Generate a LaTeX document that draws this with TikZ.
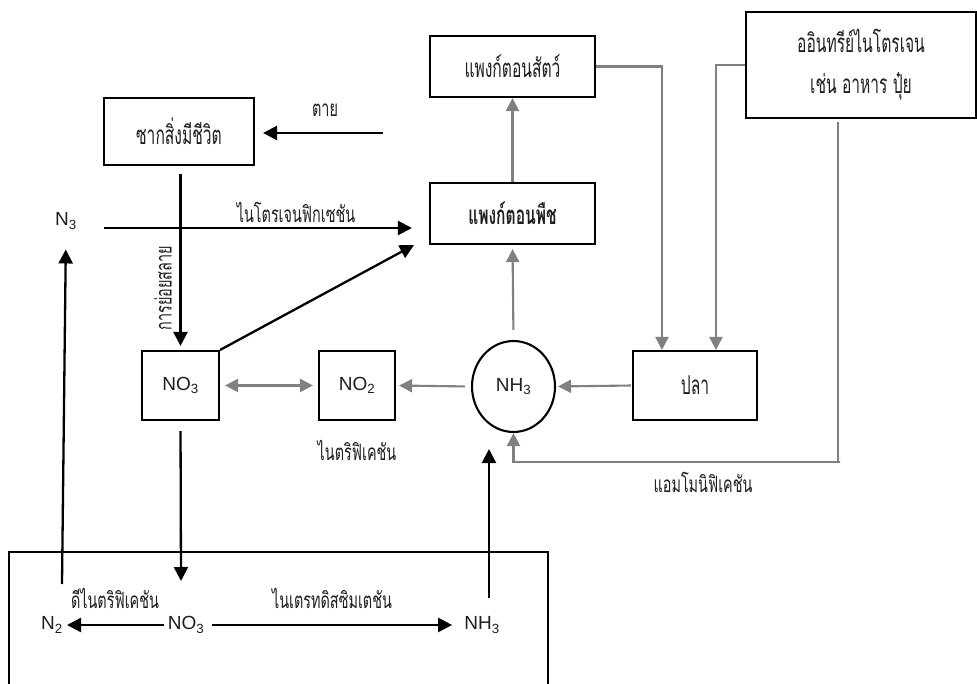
\documentclass[tikz,border=0pt]{standalone}
\usepackage{fontspec}
\setmainfont{Liberation Sans}
\newfontfamily\thai[Script=Thai,FakeStretch=0.64]{Loma}
\newfontfamily\thaibox[Script=Thai,FakeStretch=0.6]{Loma}
\usetikzlibrary{arrows.meta,shapes.geometric,calc}
\definecolor{gline}{RGB}{128,128,128}
\definecolor{ink}{RGB}{30,30,30}
\tikzset{
  blk/.style={draw=black,line width=2.3pt,-{Triangle[length=14pt,width=14pt]}},
  gry/.style={draw=gline,line width=2.1pt,-{Triangle[length=13pt,width=13pt]}},
  gryboth/.style={draw=gline,line width=2.1pt,{Triangle[length=13pt,width=13pt]}-{Triangle[length=13pt,width=13pt]}},
  boxnode/.style={draw=black,line width=2.1pt,inner sep=0pt,font=\thaibox\fontsize{26}{28}\selectfont,text=ink},
  chembox/.style={draw=black,line width=2.1pt,inner sep=0pt,font=\fontsize{19}{20}\selectfont,text=ink},
  lbl/.style={inner sep=0pt,font=\thai\fontsize{22.5}{24}\selectfont,text=ink},
  chem/.style={inner sep=0pt,font=\fontsize{19}{20}\selectfont,text=ink},
}
\newcommand{\sub}[1]{\textsubscript{#1}}
\begin{document}
\begin{tikzpicture}[x=1pt,y=-1pt]
\useasboundingbox (0,0) rectangle (977,684);
% boxes
\node[boxnode,minimum width=150pt,minimum height=67pt] (zak) at (179,131.5) {ซากสิ่งมีชีวิต};
\node[boxnode,minimum width=165pt,minimum height=61pt] (zoo) at (512.5,66.5) {แพงก์ตอนสัตว์};
\node[boxnode,minimum width=165pt,minimum height=61pt,font=\thaibox\bfseries\fontsize{26}{28}\selectfont] (phy) at (512.5,213.5) {แพงก์ตอนพืช};
\node[boxnode,minimum width=230pt,minimum height=106pt,align=center,font=\thaibox\fontsize{26}{41}\selectfont] (org) at (861,65) {ออินทรีย์ไนโตรเจน\\เช่น อาหาร ปุ๋ย};
\node[chembox,minimum width=77pt,minimum height=69pt] (no3) at (180.5,385.5) {NO\sub{3}};
\node[chembox,minimum width=76pt,minimum height=69pt] (no2) at (357,385.5) {NO\sub{2}};
\node[chembox,ellipse,minimum width=83pt,minimum height=91pt] (nh3) at (513.5,386.5) {NH\sub{3}};
\node[boxnode,minimum width=124pt,minimum height=69pt] (fish) at (695,385.5) {ปลา};
% soil box
\draw[line width=2.1pt] (9,686) -- (9,552) -- (548,552) -- (548,686);
% free labels
\node[chem] (n3) at (66,221) {N\sub{3}};
\node[chem] (n2) at (52,625) {N\sub{2}};
\node[chem] (no3b) at (186,625) {NO\sub{3}};
\node[chem] (nh3b) at (482,625) {NH\sub{3}};
\node[lbl] (ldie) at (325,110) {ตาย};
\node[lbl] (lfix) at (296,212) {ไนโตรเจนฟิกเซชัน};
\node[lbl,rotate=90] (ldec) at (163,288) {การย่อยสลาย};
\node[lbl] (lnit) at (357,450) {ไนตริฟิเคชัน};
\node[lbl] (lamm) at (703,482) {แอมโมนิฟิเคชัน};
\node[lbl] (lden) at (115,598) {ดีไนตริฟิเคชัน};
\node[lbl] (ldis) at (332,598) {ไนเตรทดิสซิมเตชัน};
% coordinates for free ends
\coordinate (die) at (383,133);
\coordinate (fixs) at (104,228);
\coordinate (amm) at (840,462);
\coordinate (dnb) at (62,584);
\coordinate (upb) at (489,598);
\coordinate (no3tip) at (181,581);
% black connectors
\draw[blk,shorten >=8pt] (die) -- (zak.east |- die);
\draw[blk,shorten <=8pt,shorten >=4pt] (zak.south -| no3.north) -- (no3.north);
\draw[blk,shorten >=17pt] (fixs) -- (phy.west |- fixs);
\draw[blk] (no3.north east) -- ($(phy.south west)+(-15,0)$);
\draw[blk,shorten <=10pt] (no3.south) -- (no3tip);
\draw[blk,shorten <=4pt,shorten >=4pt] (no3b.west) -- (n2.east);
\draw[blk,shorten <=8pt,shorten >=12pt] (no3b.east) -- (nh3b.west);
\draw[blk,shorten >=20pt] (dnb) -- (n3.south);
\draw[blk,shorten >=16pt] (upb) -- (upb |- nh3.south);
% gray connectors
\draw[gryboth,shorten <=5pt,shorten >=5pt] (no3.east) -- (no2.west);
\draw[gry,shorten <=6pt,shorten >=3pt] (nh3.west) -- (no2.east);
\draw[gry,shorten <=1pt,shorten >=2pt] (fish.west) -- (nh3.east);
\draw[gry,shorten <=10pt,shorten >=4pt] (nh3.north) -- (phy.south);
\draw[gry] (phy.north) -- (zoo.south);
\draw[gry] (zoo.east) -| ([xshift=30pt]fish.north west);
\draw[gry] (org.west) -| ([xshift=84pt]fish.north west);
\draw[gry] ([xshift=-23pt,yshift=-3pt]org.south) |- (amm) -| (nh3.south);
\end{tikzpicture}
\end{document}
